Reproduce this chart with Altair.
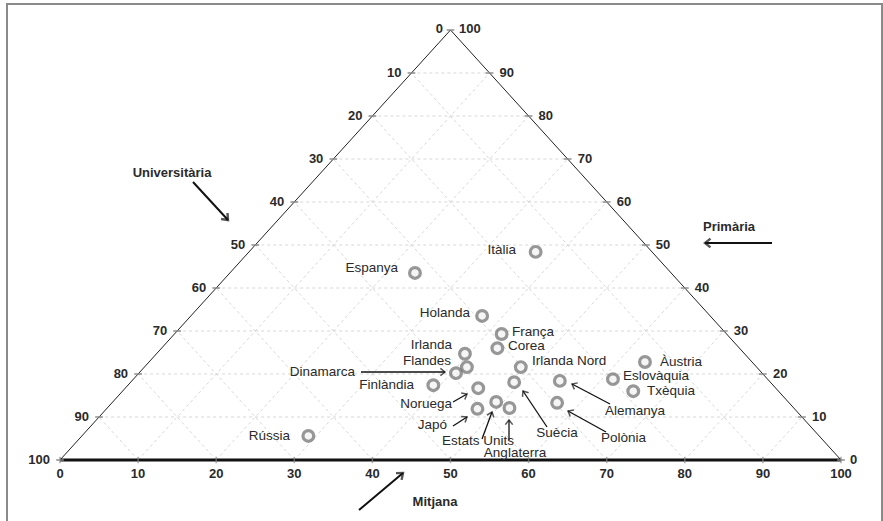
import math
import altair as alt
import pandas as pd

# ---------------- data (ternary percentages) ----------------
countries = ["Itàlia", "Espanya", "Holanda", "França", "Corea", "Irlanda", "Flandes",
             "Dinamarca", "Finlàndia", "Noruega", "Irlanda Nord", "Suècia", "Japó",
             "Estats Units", "Anglaterra", "Rússia", "Alemanya", "Polònia", "Àustria",
             "Eslovàquia", "Txèquia"]
universitaria = [14.9, 32.8, 29.2, 28.8, 31.0, 35.8, 37.1, 39.2, 43.5, 38.1, 30.2,
                 32.8, 40.6, 37.4, 36.4, 65.4, 26.8, 29.7, 13.7, 19.8, 18.6]
mitjana = [36.7, 23.7, 37.3, 41.9, 43.0, 39.5, 41.3, 40.6, 39.1, 45.2, 48.2,
           49.1, 47.5, 49.1, 51.5, 29.0, 54.8, 57.0, 63.5, 61.4, 65.4]
primaria = [48.4, 43.5, 33.5, 29.3, 26.0, 24.7, 21.6, 20.2, 17.4, 16.7, 21.6,
            18.1, 11.9, 13.5, 12.1, 5.6, 18.4, 13.3, 22.8, 18.8, 16.0]
tick_values = [10, 20, 30, 40, 50, 60, 70, 80, 90]

# label anchors (pixels) and alignment
label_px = [516, 398, 470, 512, 508, 452, 451, 355, 414, 452, 532, 557, 447, 478, 515,
            290, 605, 601, 660, 623, 647]
label_py = [250, 268, 313, 332, 346, 345, 361, 372, 385, 404, 361, 433, 425, 441, 453,
            436, 411, 438, 362, 376, 391]
label_align = ["right", "right", "right", "left", "left", "right", "right", "right",
               "right", "right", "left", "center", "right", "center", "center",
               "right", "left", "left", "left", "left", "left"]

# annotation arrows (pixels): start -> end
arrow_sx = [361, 453, 453, 482, 509, 610, 606, 547]
arrow_sy = [372, 402, 426, 439, 440, 404, 432, 427]
arrow_ex = [445, 467, 467, 492, 509, 572, 568, 523]
arrow_ey = [372, 394, 417, 412, 420, 384, 411, 391]
big_sx = [193, 772, 359]
big_sy = [182, 243, 510]
big_ex = [228, 705, 403]
big_ey = [220, 243, 473]
titles = ["Universitària", "Primària", "Mitjana"]
title_px = [172, 703, 435]
title_py = [173, 227, 502]
title_align = ["center", "left", "center"]

# ---------------- geometry helpers ----------------
W, H = 883, 521
PX0, PX1, PY0, PY1 = 60, 841, 460, 30
KX = (PX1 - PX0) / 100.0
KY = (PY0 - PY1) / 100.0


def to_x(px):
    return (px - PX0) / KX


def to_y(py):
    return (PY0 - py) / KY


xs = alt.Scale(domain=[to_x(0), to_x(W)], nice=False, zero=False)
ys = alt.Scale(domain=[to_y(H), to_y(0)], nice=False, zero=False)
FONT = "Liberation Sans"
TXT = "#2a2a2a"

pts = pd.DataFrame({"pais": countries, "U": universitaria, "M": mitjana, "P": primaria})
pts["x"] = pts["M"] + pts["P"] / 2
pts["y"] = pts["P"]

# grid lines
grid_rows = []
for v in tick_values:
    grid_rows.append({"x": v / 2, "y": v, "x2": 100 - v / 2, "y2": v})
    grid_rows.append({"x": v, "y": 0, "x2": v / 2, "y2": v})
    grid_rows.append({"x": v, "y": 0, "x2": (100 + v) / 2, "y2": 100 - v})
grid = pd.DataFrame(grid_rows)

edges = pd.DataFrame([{"x": 0, "y": 0, "x2": 50, "y2": 100},
                      {"x": 100, "y": 0, "x2": 50, "y2": 100}])
base_edge = pd.DataFrame([{"x": 0, "y": 0, "x2": 100, "y2": 0}])


def X(f="x"):
    return alt.X(f + ":Q", scale=xs, axis=None)


def Y(f="y"):
    return alt.Y(f + ":Q", scale=ys, axis=None)


grid_layer = alt.Chart(grid).mark_rule(color="#cdcdcd", strokeWidth=0.8, strokeDash=[3, 3]).encode(
    x=X(), y=Y(), x2="x2:Q", y2="y2:Q")
edge_layer = alt.Chart(edges).mark_rule(color="#222", strokeWidth=1).encode(
    x=X(), y=Y(), x2="x2:Q", y2="y2:Q")
base_layer = alt.Chart(base_edge).mark_rule(color="#111", strokeWidth=3).encode(
    x=X(), y=Y(), x2="x2:Q", y2="y2:Q")

# tick marks
side_ticks = pd.DataFrame([{"x": v / 2, "y": v} for v in [0] + tick_values + [100]] +
                          [{"x": 100 - v / 2, "y": v} for v in [0] + tick_values])
bot_ticks = pd.DataFrame([{"x": v, "y": 0} for v in [0] + tick_values + [100]])
side_tick_layer = alt.Chart(side_ticks).mark_point(
    shape="M-1,0L1,0", size=60, stroke="#888", strokeWidth=2, filled=False).encode(x=X(), y=Y())
bot_tick_layer = alt.Chart(bot_ticks).mark_point(
    shape="M0,-1L0,1", size=40, stroke="#888", strokeWidth=1.5, filled=False).encode(x=X(), y=Y())

# tick labels
left_lab = pd.DataFrame({"x": [to_x(PX0 + (v / 2) * KX - 10) for v in tick_values],
                         "y": tick_values, "t": [str(100 - v) for v in tick_values]})
right_lab = pd.DataFrame({"x": [to_x(PX0 + (100 - v / 2) * KX + 10) for v in tick_values],
                          "y": tick_values, "t": [str(v) for v in tick_values]})
bot_lab = pd.DataFrame({"x": [0] + tick_values + [100], "y": [to_y(474)] * 11,
                        "t": [str(v) for v in [0] + tick_values + [100]]})
corner_r = pd.DataFrame({"x": [to_x(443), to_x(50)], "y": [to_y(29), to_y(460)], "t": ["0", "100"]})
corner_l = pd.DataFrame({"x": [to_x(459), to_x(850)], "y": [to_y(29), to_y(460)], "t": ["100", "0"]})


def tlab(df, align):
    return alt.Chart(df).mark_text(align=align, baseline="middle", font=FONT, fontSize=13,
                                   fontWeight="bold", color=TXT).encode(x=X(), y=Y(), text="t:N")


tick_text = (tlab(left_lab, "right") + tlab(right_lab, "left") + tlab(bot_lab, "center") +
             tlab(corner_r, "right") + tlab(corner_l, "left"))

# points
point_layer = alt.Chart(pts).mark_point(
    shape="circle", size=115, filled=True, fill="#f2f2f2", stroke="#6c6c6c", strokeWidth=3.2).encode(
    x=X(), y=Y(), tooltip=["pais:N", "U:Q", "M:Q", "P:Q"])

# country labels
labs = pd.DataFrame({"t": countries, "x": [to_x(v) for v in label_px],
                     "y": [to_y(v) for v in label_py], "a": label_align})
label_layers = []
for a in ["left", "right", "center"]:
    label_layers.append(alt.Chart(labs[labs["a"] == a]).mark_text(
        align=a, baseline="middle", font=FONT, fontSize=13.5, color=TXT).encode(
        x=X(), y=Y(), text="t:N"))


def arrow_frames(sx, sy, ex, ey):
    lines = pd.DataFrame({"x": [to_x(v) for v in sx], "y": [to_y(v) for v in sy],
                          "x2": [to_x(v) for v in ex], "y2": [to_y(v) for v in ey]})
    heads = pd.DataFrame({"x": [to_x(v) for v in ex], "y": [to_y(v) for v in ey],
                          "ang": [math.degrees(math.atan2(x2 - x1, -(y2 - y1))) % 360
                                  for x1, y1, x2, y2 in zip(sx, sy, ex, ey)]})
    return lines, heads


al, ah = arrow_frames(arrow_sx, arrow_sy, arrow_ex, arrow_ey)
small_arrows = alt.Chart(al).mark_rule(color="#111", strokeWidth=1.3).encode(
    x=X(), y=Y(), x2="x2:Q", y2="y2:Q")
small_heads = alt.Chart(ah).mark_point(
    shape="M-0.8,1L0,0L0.8,1", size=85, filled=False, stroke="#111", strokeWidth=1.5).encode(
    x=X(), y=Y(), angle=alt.Angle("ang:Q", scale=None))

bl, bh = arrow_frames(big_sx, big_sy, big_ex, big_ey)
big_arrows = alt.Chart(bl).mark_rule(color="#111", strokeWidth=2).encode(
    x=X(), y=Y(), x2="x2:Q", y2="y2:Q")
big_heads = alt.Chart(bh).mark_point(
    shape="M-0.8,1L0,0L0.8,1", size=120, filled=False, stroke="#111", strokeWidth=2.4).encode(
    x=X(), y=Y(), angle=alt.Angle("ang:Q", scale=None))

tit = pd.DataFrame({"t": titles, "x": [to_x(v) for v in title_px],
                    "y": [to_y(v) for v in title_py], "a": title_align})
title_layers = []
for a in ["left", "center"]:
    title_layers.append(alt.Chart(tit[tit["a"] == a]).mark_text(
        align=a, baseline="middle", font=FONT, fontSize=13, fontWeight="bold", color=TXT).encode(
        x=X(), y=Y(), text="t:N"))

border = alt.Chart(pd.DataFrame({"d": [0]})).mark_rect(
    fill=None, stroke="#8a8a8a", strokeWidth=2).encode(
    x=alt.value(7), x2=alt.value(882), y=alt.value(4), y2=alt.value(540))

chart = alt.layer(
    border, grid_layer, edge_layer, base_layer, side_tick_layer, bot_tick_layer,
    tick_text, small_arrows, small_heads, big_arrows, big_heads,
    point_layer, *label_layers, *title_layers
).properties(
    width=W, height=H, autosize=alt.AutoSizeParams(type="none"), padding=0
).configure_view(stroke=None)

chart.save("out.html", embed_options={"renderer": "svg", "actions": False})
